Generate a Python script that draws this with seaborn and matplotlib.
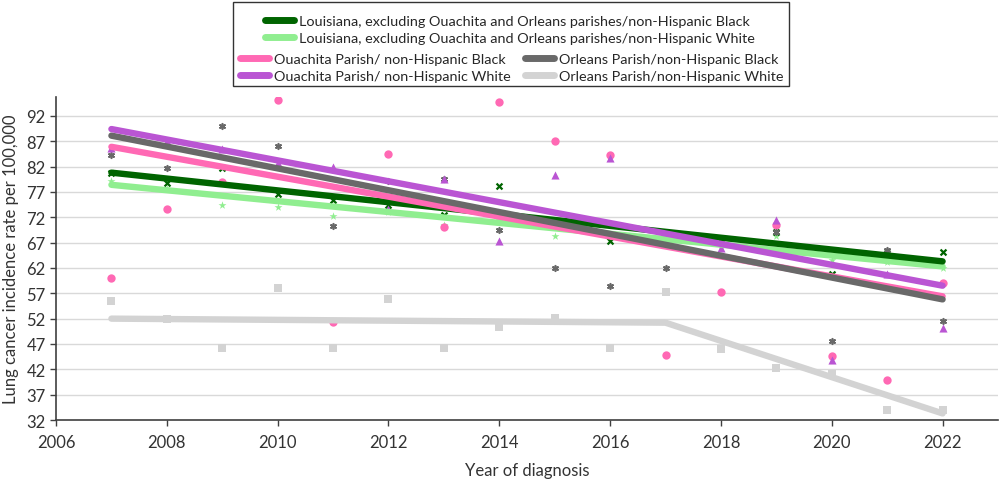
import matplotlib
matplotlib.use("Agg")
import matplotlib.pyplot as plt
import matplotlib.patches as mpatches
from matplotlib.lines import Line2D
import seaborn as sns
import pandas as pd

years = list(range(2007, 2023))

la_black = [80.8, 78.8, 81.7, 76.5, 75.5, 74.5, 72.5, 78.1, 70.5, 67.3, 68.2, 67.3, 69.1, 60.8, 65.0, 65.2]
la_white = [79.2, 77.6, 74.4, 74.1, 72.3, 73.0, 70.4, 71.5, 68.4, 67.5, 67.0, 66.5, 68.3, 63.5, 63.2, 62.0]
ouachita_black = [60.1, 73.6, 79.0, 95.1, 51.4, 84.4, 70.0, 94.8, 87.1, 84.3, 44.8, 57.2, 70.5, 44.6, 39.8, 59.1]
ouachita_white = [85.7, 87.0, 85.4, 82.7, 82.0, 73.6, 79.6, 67.4, 80.3, 83.7, 67.5, 66.0, 71.4, 43.8, 60.8, 50.1]
orleans_black = [84.3, 81.7, 90.1, 86.0, 70.2, 79.2, 79.6, 69.5, 61.9, 58.4, 62.0, 67.0, 69.0, 47.6, 65.6, 51.6]
orleans_white = [55.4, 52.0, 46.3, 58.1, 46.3, 55.9, 46.3, 50.4, 52.2, 46.3, 57.3, 46.1, 42.2, 41.1, 33.9, 34.0]

# fitted trend lines
trend_years = [2007, 2022]
la_black_trend = [80.8, 63.3]
la_white_trend = [78.4, 62.3]
ouachita_black_trend = [85.9, 56.4]
ouachita_white_trend = [89.4, 58.5]
orleans_black_trend = [88.1, 55.8]
orleans_white_trend_years = [2007, 2017, 2022]
orleans_white_trend = [52.0, 51.2, 33.3]

labels = [
    "Louisiana, excluding Ouachita and Orleans parishes/non-Hispanic Black",
    "Louisiana, excluding Ouachita and Orleans parishes/non-Hispanic White",
    "Ouachita Parish/ non-Hispanic Black",
    "Ouachita Parish/ non-Hispanic White",
    "Orleans Parish/non-Hispanic Black",
    "Orleans Parish/non-Hispanic White",
]
colors = ["#006400", "#90EE90", "#FF69B4", "#BA55D3", "#696969", "#D3D3D3"]

sns.set_theme(style="white")
plt.rcParams["font.family"] = ["Lato", "DejaVu Sans"]

fig = plt.figure(figsize=(10, 4.81), dpi=100)
ax = fig.add_axes([0.056, 0.1247, 0.942, 0.6713])

points = [la_black, la_white, ouachita_black, ouachita_white, orleans_black, orleans_white]
trends = [
    (trend_years, la_black_trend),
    (trend_years, la_white_trend),
    (trend_years, ouachita_black_trend),
    (trend_years, ouachita_white_trend),
    (trend_years, orleans_black_trend),
    (orleans_white_trend_years, orleans_white_trend),
]
marker_specs = [
    dict(marker="x", s=18, linewidth=1.6),
    dict(marker="*", s=36, linewidth=0),
    dict(marker="o", s=36, linewidth=0),
    dict(marker="^", s=34, linewidth=0),
    dict(marker=(6, 2, 0), s=16, linewidth=1.2),
    dict(marker="s", s=32, linewidth=0),
]

order = [5, 1, 0, 2, 4, 3]
for i in order:
    df = pd.DataFrame({"year": years, "rate": points[i]})
    sns.scatterplot(data=df, x="year", y="rate", color=colors[i], ax=ax,
                    edgecolor=colors[i], zorder=3, legend=False, **marker_specs[i])
for i in order:
    ty, tv = trends[i]
    dft = pd.DataFrame({"year": ty, "rate": tv})
    sns.lineplot(data=dft, x="year", y="rate", color=colors[i], ax=ax,
                 linewidth=4.6, solid_capstyle="round", solid_joinstyle="round",
                 zorder=4, legend=False)

ax.set_xlim(2006, 2023)
ax.set_ylim(32, 95.7)
ax.set_xticks(list(range(2006, 2023, 2)))
ax.set_yticks(list(range(32, 93, 5)))
ax.yaxis.grid(True, color="#D9D9D9", linewidth=1)
ax.xaxis.grid(False)
for sp in ["top", "right"]:
    ax.spines[sp].set_visible(False)
for sp in ["left", "bottom"]:
    ax.spines[sp].set_color("#404040")
    ax.spines[sp].set_linewidth(1.2)
ax.tick_params(axis="both", which="major", length=4, width=1, color="#404040",
               labelsize=12, labelcolor="#333333", direction="out", bottom=True, left=True)
ax.tick_params(axis="x", pad=6)
ax.set_xlabel("Year of diagnosis", fontsize=12, color="#333333", labelpad=9)
ax.set_ylabel("Lung cancer incidence rate per 100,000", fontsize=12, color="#333333", labelpad=5)

handles = [Line2D([0], [0], color=c, linewidth=5) for c in colors]
fig.legend(handles[:2], labels[:2], loc="upper center",
           bbox_to_anchor=(0.510, 1 - 9 / 481), frameon=False, fontsize=10.4,
           handlelength=2.0, handletextpad=0.35, labelspacing=0.3, borderpad=0)
fig.legend([handles[2], handles[3], handles[4], handles[5]],
           [labels[2], labels[3], labels[4], labels[5]], loc="upper center",
           bbox_to_anchor=(0.512, 1 - 47 / 481), frameon=False, fontsize=10.4, ncol=2,
           handlelength=2.0, handletextpad=0.35, labelspacing=0.3, columnspacing=1.0,
           borderpad=0)
rect = mpatches.Rectangle((0.233, 1 - 87 / 481), 0.556, 84 / 481, transform=fig.transFigure,
                          fill=False, edgecolor="#333333", linewidth=1)
fig.patches.append(rect)

fig.savefig("out.png", dpi=100)
